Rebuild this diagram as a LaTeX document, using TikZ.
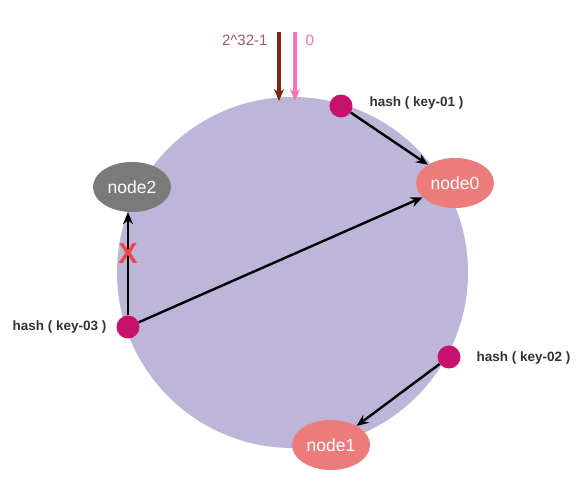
\documentclass[tikz,border=0pt]{standalone}
\usepackage{fontspec}
\setmainfont{Liberation Sans}
\usetikzlibrary{arrows.meta,shapes.geometric}
\definecolor{ring}{HTML}{BEB6D9}
\definecolor{salmon}{HTML}{EC7B7B}
\definecolor{srvgray}{HTML}{7A7A7A}
\definecolor{keydot}{HTML}{C8106C}
\definecolor{maxcol}{HTML}{7A2410}
\definecolor{maxtxt}{HTML}{A25A5A}
\definecolor{zerocol}{HTML}{F672B8}
\definecolor{cross}{HTML}{F04848}
\begin{document}
\begin{tikzpicture}[x=1pt,y=-1pt,
  server/.style={ellipse,fill=#1,text=white,inner sep=0pt,
    minimum width=78pt,minimum height=50pt,font=\fontsize{17.5}{17.5}\selectfont},
  key/.style={circle,fill=keydot,inner sep=0pt,minimum size=23pt},
  hashlbl/.style={font=\bfseries\fontsize{13.5}{13.5}\selectfont,text=black!80},
  link/.style={-{Stealth[length=12pt,width=10pt]},line width=2.4pt}]
  \useasboundingbox (0,0) rectangle (585,487);
  \fill[ring] (292.5,272.5) circle (175.5);
  % servers on the ring
  \node[server=srvgray] (n2) at (132,187) {node2};
  \node[server=salmon] (n0) at (455,183) {node0};
  \node[server=salmon] (n1) at (331,445) {node1};
  % hashed keys
  \node[key] (k1) at (341,106) {};
  \node[key] (k2) at (449,357) {};
  \node[key] (k3) at (128,327) {};
  \node[hashlbl,right] (l1) at (366,103) {hash ( key-01 )};
  \node[hashlbl,right] (l2) at (473,358) {hash ( key-02 )};
  \node[hashlbl,left] (l3) at (110,327) {hash ( key-03 )};
  \draw[link] (k1) -- (n0);
  \draw[link] (k2) -- (n1);
  \draw[link] (k3) -- (n0);
  \draw[link] (k3) -- (k3 |- n2.south);
  \node[text=cross,font=\bfseries\fontsize{29}{29}\selectfont] (x) at (128,254) {X};
  % start / end of the hash space
  \coordinate (maxtop) at (279,32);
  \coordinate (maxend) at (279,101);
  \coordinate (zerotop) at (295,32);
  \coordinate (zeroend) at (295,101);
  \draw[maxcol,line width=3.4pt,-{Stealth[length=12pt,width=10pt]}] (maxtop) -- (maxend);
  \draw[zerocol,line width=3.4pt,-{Stealth[length=12pt,width=10pt]}] (zerotop) -- (zeroend);
  \node[left,text=maxtxt,font=\fontsize{15}{15}\selectfont] (maxlbl) at (271,40) {2\^{}32-1};
  \node[right,text=zerocol,font=\fontsize{15}{15}\selectfont] (zerolbl) at (302,40) {0};
\end{tikzpicture}
\end{document}
